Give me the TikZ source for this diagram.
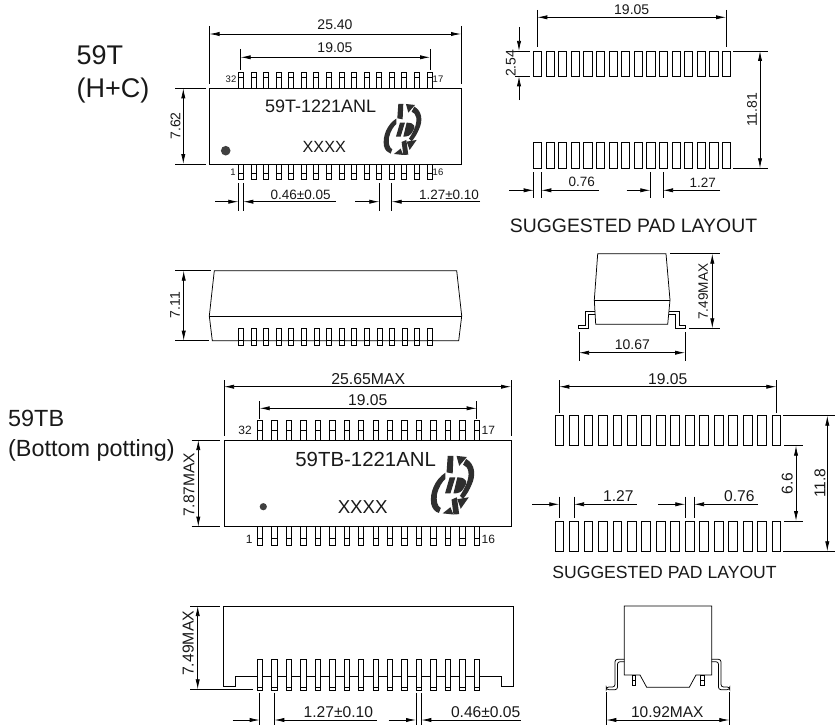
\documentclass[tikz,border=0pt]{standalone}
\usepackage{fontspec}
\setmainfont{Liberation Sans}
\usetikzlibrary{arrows.meta}
\newcommand{\fsz}[1]{\fontsize{#1}{#1}\selectfont}
\tikzset{
  ln/.style={line width=0.75pt,black},
  dimboth/.style={ln,{Latex[length=10pt,width=4.2pt]}-{Latex[length=10pt,width=4.2pt]}},
  dimin/.style={ln,-{Latex[length=10pt,width=4.2pt]}},
  lbl/.style={inner sep=0pt,text=black!90},
  pinbox/.style={ln,fill=white},
  tiny/.style={lbl,font=\fsz{9.5}},
  tinyb/.style={lbl,font=\fsz{12}},
}
% #1 first x, #2 pitch, #3 width, #4 top, #5 bottom, #6 bar
\newcommand{\pinrow}[6]{\foreach \i in {0,...,15}{
  \pgfmathsetmacro{\xa}{#1+\i*#2}\pgfmathsetmacro{\xb}{\xa+#3}
  \draw[pinbox] (\xa,#4) rectangle (\xb,#5);
  \draw[ln] (\xa,#6) -- (\xb,#6);}}
\newcommand{\padrow}[5]{\foreach \i in {0,...,15}{
  \pgfmathsetmacro{\xa}{#1+\i*#2}\pgfmathsetmacro{\xb}{\xa+#3}
  \draw[ln] (\xa,#4) rectangle (\xb,#5);}}
% #1 x, #2 y, #3 scale
\newcommand{\idlogo}[3]{
\begin{scope}[shift={(#1,#2)},x=#3*0.3333pt,y=-#3*0.3333pt,fill=black!82,draw=none]
  \fill (-12,-76) -- (3,-76) -- (1,-30) -- (-15,-33) -- cycle;
  \fill (-18,-32) .. controls (-45,-15) and (-60,20) .. (-55,50) .. controls (-52,62) and (-45,70) .. (-35,73)
        -- (-30,60) .. controls (-40,55) and (-42,40) .. (-40,25) .. controls (-36,5) and (-25,-10) .. (-18,-16) -- cycle;
  \fill (-25,74) -- (-5,58) -- (3,77) -- cycle;
  \fill (11,-76) -- (38,-73) -- (18,-50) -- cycle;
  \fill (36,-68) .. controls (60,-55) and (62,-25) .. (50,0) .. controls (45,12) and (38,25) .. (28,36)
        -- (20,28) .. controls (32,10) and (45,-15) .. (42,-35) .. controls (40,-45) and (35,-50) .. (28,-53) -- cycle;
  \fill (-7,-20) -- (8,-20) -- (-5,22) -- (-19,22) -- cycle;
  \fill (13,-20) .. controls (40,-20) and (40,-5) .. (32,5) .. controls (25,20) and (15,22) .. (3,22) -- cycle;
  \fill (43,32) -- (13,37) -- (22,62) -- cycle;
  \fill (-2,38) -- (12,32) -- (18,76) -- (3,77) -- cycle;
\end{scope}}
\begin{document}
\begin{tikzpicture}[x=1pt,y=-1pt]
\useasboundingbox (0,0) rectangle (835,725);
\fill[white] (0,0) rectangle (835,725);

% ---------- side labels
\node[lbl,anchor=base west,font=\fsz{27}] (t59t) at (76.5,65) {59T};
\node[lbl,anchor=base west,font=\fsz{27}] (thc) at (76.5,97.7) {(H+C)};
\node[lbl,anchor=base west,font=\fsz{23.4}] (t59tb) at (8,426.7) {59TB};
\node[lbl,anchor=base west,font=\fsz{23.4}] (tbp) at (8,456) {(Bottom potting)};

% ---------- 59T top view
\pinrow{238.4}{12.57}{5}{72.7}{88.3}{77}
\pinrow{238.4}{12.57}{5}{164}{179}{173}
\draw[ln,fill=white] (209.5,88.3) rectangle (461,164);
\fill[black!75] (225.7,150.7) circle (4.8);
\node[lbl,font=\fsz{18}] (m1) at (320.7,106) {59T-1221ANL};
\node[lbl,font=\fsz{16.2}] (x1) at (324.3,147.3) {XXXX};
\idlogo{402.3}{129.3}{1}
\node[tiny] (p32) at (231,79) {32};
\node[tiny] (p17) at (438,79) {17};
\node[tiny] (p1) at (233,172.7) {1};
\node[tiny] (p16) at (438,172.7) {16};
\draw[ln] (209.5,26) -- (209.5,84) (461,26) -- (461,84);
\draw[dimboth] (209.5,34) -- (461,34);
\node[lbl,font=\fsz{14}] (d1) at (335,25) {25.40};
\draw[ln] (240.7,49) -- (240.7,70) (430,49) -- (430,70);
\draw[dimboth] (240.7,57.3) -- (430,57.3);
\node[lbl,font=\fsz{14}] (d2) at (335,48) {19.05};
\draw[ln] (238.3,183) -- (238.3,211) (243.3,183) -- (243.3,211);
\draw[dimin] (215,201.7) -- (238.3,201.7);
\draw[dimin] (335.7,201.7) -- (243.3,201.7);
\node[lbl,font=\fsz{13.5}] (d3) at (300.7,194.7) {0.46±0.05};
\draw[ln] (379.3,183) -- (379.3,211) (391.7,183) -- (391.7,211);
\draw[dimin] (355,201.7) -- (379.3,201.7);
\draw[dimin] (480,201.7) -- (391.7,201.7);
\node[lbl,font=\fsz{13.5}] (d4) at (449,194.7) {1.27±0.10};
\draw[ln] (206,88.3) -- (175,88.3) (206,164) -- (175,164);
\draw[dimboth] (183.3,88.3) -- (183.3,164);
\node[lbl,font=\fsz{14},rotate=90] (d5) at (175.5,126) {7.62};

% ---------- 59T pad layout
\padrow{533.3}{12.6}{8.2}{51}{76.3}
\padrow{533.3}{12.6}{8.2}{142.3}{168.3}
\draw[ln] (537.3,10) -- (537.3,47) (726,10) -- (726,47);
\draw[dimboth] (537.3,17.3) -- (726,17.3);
\node[lbl,font=\fsz{14}] (d6) at (631.7,9.3) {19.05};
\draw[ln] (515,51) -- (530,51) (515,76.3) -- (530,76.3);
\draw[dimin] (519,27) -- (519,51);
\draw[dimin] (519,100) -- (519,76.3);
\node[lbl,font=\fsz{14},rotate=90] (d7) at (510.7,63.3) {2.54};
\draw[ln] (733.3,51) -- (768,51) (733.3,168.3) -- (768,168.3);
\draw[dimboth] (760,51) -- (760,168.3);
\node[lbl,font=\fsz{14},rotate=90] (d8) at (752,110) {11.81};
\draw[ln] (533.7,172) -- (533.7,198) (541.3,172) -- (541.3,198);
\draw[dimin] (509.3,190.3) -- (533.7,190.3);
\draw[dimin] (598.7,190.3) -- (541.3,190.3);
\node[lbl,font=\fsz{13.5}] (d9) at (581.7,182.3) {0.76};
\draw[ln] (650.3,172) -- (650.3,198) (663,172) -- (663,198);
\draw[dimin] (626.7,190.3) -- (650.3,190.3);
\draw[dimin] (720,190.3) -- (663,190.3);
\node[lbl,font=\fsz{13.5}] (d10) at (702.7,182.3) {1.27};
\node[lbl,font=\fsz{19.4}] (s1) at (633.5,226) {SUGGESTED PAD LAYOUT};

% ---------- 59T side view
\draw[ln] (212.3,340.7) -- (209.3,316) -- (214.3,270.7) -- (456.7,270.7) -- (461.7,316) -- (458.7,340.7) -- cycle;
\draw[ln] (209.3,316) -- (461.7,316);
\pinrow{238.3}{12.6}{5}{328.3}{345.3}{340.7}
\draw[ln] (175,270.7) -- (210.7,270.7) (175,340.7) -- (208.7,340.7);
\draw[dimboth] (183.7,270.7) -- (183.7,340.7);
\node[lbl,font=\fsz{14},rotate=90] (d11) at (175,305) {7.11};

% ---------- 59T end view
\draw[ln] (597.7,253.7) -- (666,253.7) -- (670,300) -- (667.7,324.3) -- (595.7,324.3) -- (594.3,300) -- cycle;
\draw[ln] (594.3,300) -- (670,300);
\draw[ln] (594.8,311) -- (585,311) -- (585,325) -- (578.7,325) -- (578.7,328.3) -- (588.3,328.3) -- (588.3,314.7) -- (595.2,314.7);
\draw[ln] (669.2,311) -- (679,311) -- (679,325) -- (685.3,325) -- (685.3,328.3) -- (675.7,328.3) -- (675.7,314.7) -- (668.8,314.7);
\draw[ln] (670,253.7) -- (720,253.7) (689,328.3) -- (720,328.3);
\draw[dimboth] (712.3,253.7) -- (712.3,328.3);
\node[lbl,font=\fsz{13.6},rotate=90] (d12) at (703.3,291.7) {7.49MAX};
\draw[ln] (579,332) -- (579,361) (685,332) -- (685,361);
\draw[dimboth] (579,352.7) -- (685,352.7);
\node[lbl,font=\fsz{14}] (d13) at (632.3,345) {10.67};

% ---------- 59TB top view
\pinrow{257.3}{14.45}{5.4}{420.7}{440}{430}
\pinrow{257.3}{14.45}{5.4}{526.7}{545.7}{538}
\draw[ln,fill=white] (224,440) rectangle (511,526.7);
\fill[black!75] (263.3,506.7) circle (3.6);
\node[lbl,font=\fsz{20.4}] (m2) at (365.7,459.3) {59TB-1221ANL};
\node[lbl,font=\fsz{18.7}] (x2) at (362.7,506.7) {XXXX};
\idlogo{452.3}{485}{1.15}
\node[tinyb] (q32) at (245,430) {32};
\node[tinyb] (q17) at (488.3,430) {17};
\node[tinyb] (q1) at (249.3,539) {1};
\node[tinyb] (q16) at (488.3,539) {16};
\draw[ln] (224,380) -- (224,436) (511,380) -- (511,436);
\draw[dimboth] (224,386.7) -- (511,386.7);
\node[lbl,font=\fsz{15.8}] (e1) at (368.3,378.7) {25.65MAX};
\draw[ln] (259.7,401) -- (259.7,419) (476.7,401) -- (476.7,419);
\draw[dimboth] (259.7,408.3) -- (476.7,408.3);
\node[lbl,font=\fsz{15.6}] (e2) at (367.7,400) {19.05};
\draw[ln] (191.7,440) -- (220,440) (191.7,526.7) -- (220,526.7);
\draw[dimboth] (198.3,440) -- (198.3,526.7);
\node[lbl,font=\fsz{15.6},rotate=90] (e3) at (189,484.7) {7.87MAX};

% ---------- 59TB pad layout
\padrow{555}{14.47}{8.8}{415.7}{445.7}
\padrow{555}{14.47}{8.8}{521}{551.3}
\draw[ln] (559.3,380) -- (559.3,412.7) (776.3,380) -- (776.3,412.7);
\draw[dimboth] (559.3,386.7) -- (776.3,386.7);
\node[lbl,font=\fsz{15.6}] (e4) at (667.7,378.7) {19.05};
\draw[ln] (784,445.7) -- (803.3,445.7) (784,521) -- (803.3,521);
\draw[dimboth] (796,445.7) -- (796,521);
\node[lbl,font=\fsz{15.6},rotate=90] (e5) at (787.3,483.3) {6.6};
\draw[ln] (783.3,415.7) -- (835,415.7) (783.3,551.3) -- (835,551.3);
\draw[dimboth] (827.3,415.7) -- (827.3,551.3);
\node[lbl,font=\fsz{15.6},rotate=90] (e6) at (820,483.3) {11.8};
\draw[ln] (559.3,496.7) -- (559.3,517.7) (574,496.7) -- (574,517.7);
\draw[dimin] (532.3,504.3) -- (559.3,504.3);
\draw[dimin] (636.7,504.3) -- (574,504.3);
\node[lbl,font=\fsz{15.6}] (e7) at (618.3,496) {1.27};
\draw[ln] (685.3,496.7) -- (685.3,517.7) (694,496.7) -- (694,517.7);
\draw[dimin] (658.3,504.3) -- (685.3,504.3);
\draw[dimin] (758,504.3) -- (694,504.3);
\node[lbl,font=\fsz{15.6}] (e8) at (739.3,496) {0.76};
\node[lbl,font=\fsz{17.6}] (s2) at (664.5,572.3) {SUGGESTED PAD LAYOUT};

% ---------- 59TB side view
\draw[ln] (223.7,606) -- (513,606) -- (513,686.7) -- (501,686.7) -- (501,676) -- (235.7,676) -- (235.7,686.7) -- (223.7,686.7) -- cycle;
\pinrow{257.3}{14.45}{5.4}{659.3}{690}{687.3}
\draw[ln] (190,606) -- (220,606) (190,689.3) -- (253.3,689.3);
\draw[dimboth] (197.7,606) -- (197.7,689.3);
\node[lbl,font=\fsz{15.8},rotate=90] (f1) at (188.3,643.3) {7.49MAX};
\draw[ln] (259.7,692.7) -- (259.7,725) (274.3,692.7) -- (274.3,725);
\draw[dimin] (232.7,720) -- (259.7,720);
\draw[dimin] (376.7,720) -- (274.3,720);
\node[lbl,font=\fsz{15.6}] (f2) at (338.3,711.7) {1.27±0.10};
\draw[ln] (416,692.7) -- (416,725) (421.3,692.7) -- (421.3,725);
\draw[dimin] (388.7,720) -- (416,720);
\draw[dimin] (520.7,720) -- (421.3,720);
\node[lbl,font=\fsz{15.6}] (f3) at (485.7,711.7) {0.46±0.05};

% ---------- 59TB end view
\draw[ln] (632.3,675) rectangle (635.7,685.7) (632.3,680) -- (635.7,680);
\draw[ln] (700.5,675) rectangle (703.9,685.7) (700.5,680) -- (703.9,680);
\draw[ln] (624.3,675) -- (624.3,606) -- (711.7,606) -- (711.7,675) -- (696,675) -- (689.3,687.3) -- (646.7,687.3) -- (640,675) -- cycle;
\draw[ln,rounded corners=2.5pt] (624.3,659.3) -- (615,659.3) -- (615,687) -- (606.3,687) -- (606.3,689.7) -- (617.5,689.7) -- (617.5,661.7) -- (624.3,661.7);
\draw[ln,rounded corners=2.5pt] (711.7,659.3) -- (721,659.3) -- (721,687) -- (729.7,687) -- (729.7,689.7) -- (718.5,689.7) -- (718.5,661.7) -- (711.7,661.7);
\draw[ln] (606.3,692) -- (606.3,725) (729.3,692) -- (729.3,725);
\draw[dimboth] (606.3,720) -- (729.3,720);
\node[lbl,font=\fsz{15.5}] (f4) at (667.3,712) {10.92MAX};
\end{tikzpicture}
\end{document}
